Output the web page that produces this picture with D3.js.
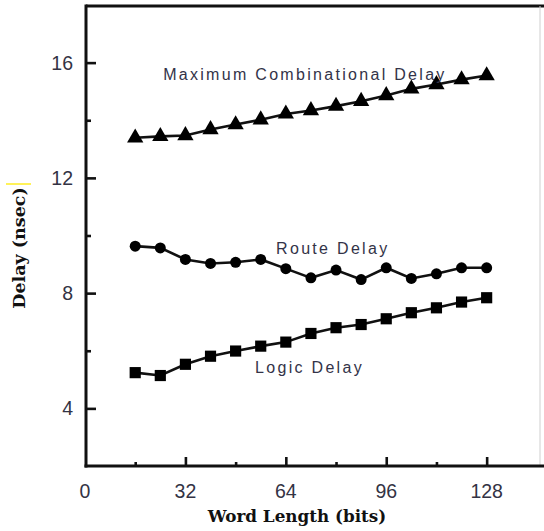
<!DOCTYPE html>
<html>
<head>
<meta charset="utf-8">
<script src="https://cdn.jsdelivr.net/npm/d3@7"></script>
<style>
  html, body { margin: 0; padding: 0; background: #fff; }
  svg { display: block; }
</style>
</head>
<body>
<svg id="chart" width="544" height="531"></svg>
<script>
// ---- data ----
const wordLength = [16, 24, 32, 40, 48, 56, 64, 72, 80, 88, 96, 104, 112, 120, 128];
const maxCombDelay = [13.39, 13.44, 13.47, 13.68, 13.85, 14.02, 14.22, 14.34, 14.49, 14.66, 14.86, 15.09, 15.24, 15.41, 15.55];
const routeDelay   = [9.63, 9.57, 9.17, 9.03, 9.07, 9.17, 8.85, 8.53, 8.80, 8.47, 8.88, 8.51, 8.67, 8.88, 8.88];
const logicDelay   = [5.24, 5.14, 5.53, 5.81, 5.99, 6.16, 6.30, 6.60, 6.80, 6.91, 7.11, 7.32, 7.49, 7.69, 7.84];
const xMajorTicks = [0, 32, 64, 96, 128];
const xMinorTicks = [16, 48, 80, 112];
const yMajorTicks = [4, 8, 12, 16];
const yMinorTicks = [6, 10, 14];
const seriesNames = ["Maximum Combinational Delay", "Route Delay", "Logic Delay"];
// annotation anchors in data units (x, y)
const labelX = [24.9, 60.9, 54.2];
const labelY = [15.4, 9.36, 5.23];
const xTitle = "Word Length (bits)";
const yTitle = "Delay (nsec)";

const svg = d3.select("#chart");
const W = 544, H = 531;
const pLeft = 86, pRight = 540, pTop = 6, pBottom = 466;

const x = d3.scaleLinear().domain([0, 145]).range([85, 540]);
const y = d3.scaleLinear().domain([2, 18]).range([466, 5]);

// frame lines
svg.append("line").attr("x1", pLeft).attr("x2", W).attr("y1", pTop).attr("y2", pTop)
  .attr("stroke", "#111").attr("stroke-width", 2.8);
svg.append("line").attr("x1", pRight).attr("x2", pRight).attr("y1", pTop).attr("y2", pBottom)
  .attr("stroke", "#cfcfcf").attr("stroke-width", 1);

// y axis (ticks pointing inward)
const gy = svg.append("g").attr("transform", `translate(${pLeft},0)`)
  .call(d3.axisRight(y).tickValues(yMajorTicks).tickSize(10).tickFormat(""));
gy.select(".domain").remove();
gy.selectAll(".tick line").attr("stroke", "#111").attr("stroke-width", 2.6);
const gyMinor = svg.append("g").attr("transform", `translate(${pLeft},0)`)
  .call(d3.axisRight(y).tickValues(yMinorTicks).tickSize(5).tickFormat(""));
gyMinor.select(".domain").remove();
gyMinor.selectAll(".tick line").attr("stroke", "#111").attr("stroke-width", 2.6);
svg.append("line").attr("x1", pLeft).attr("x2", pLeft).attr("y1", pTop - 1.4).attr("y2", pBottom + 1.4)
  .attr("stroke", "#111").attr("stroke-width", 3);

// y tick labels
svg.append("g").selectAll("text").data(yMajorTicks).join("text")
  .attr("x", 73).attr("y", d => y(d)).attr("dy", "0.36em")
  .attr("text-anchor", "end")
  .attr("font-family", "Liberation Sans, Arial, sans-serif").attr("font-size", 19.5)
  .attr("fill", "#333344").text(d => d);

// x axis (ticks pointing up)
const gx = svg.append("g").attr("transform", `translate(0,${pBottom})`)
  .call(d3.axisTop(x).tickValues(xMajorTicks.filter(d => d > 0)).tickSize(9).tickFormat(""));
gx.select(".domain").remove();
gx.selectAll(".tick line").attr("stroke", "#111").attr("stroke-width", 2.6);
const gxMinor = svg.append("g").attr("transform", `translate(0,${pBottom})`)
  .call(d3.axisTop(x).tickValues(xMinorTicks).tickSize(4).tickFormat(""));
gxMinor.select(".domain").remove();
gxMinor.selectAll(".tick line").attr("stroke", "#111").attr("stroke-width", 2.6);
svg.append("line").attr("x1", pLeft - 1.5).attr("x2", W).attr("y1", pBottom).attr("y2", pBottom)
  .attr("stroke", "#111").attr("stroke-width", 3);

// x tick labels
svg.append("g").selectAll("text").data(xMajorTicks).join("text")
  .attr("x", d => x(d)).attr("y", 497.5)
  .attr("text-anchor", "middle")
  .attr("font-family", "Liberation Sans, Arial, sans-serif").attr("font-size", 19.5)
  .attr("fill", "#333344").text(d => d);

// axis titles
svg.append("text").attr("x", 297).attr("y", 522).attr("text-anchor", "middle")
  .attr("font-family", "DejaVu Serif, serif").attr("font-weight", "bold").attr("font-size", 16.8)
  .attr("fill", "#111").text(xTitle);
svg.append("text").attr("transform", "translate(25,248) rotate(-90)").attr("text-anchor", "middle")
  .attr("font-family", "DejaVu Serif, serif").attr("font-weight", "bold").attr("font-size", 17.5)
  .attr("fill", "#111").text(yTitle);
svg.append("line").attr("x1", 6).attr("x2", 31).attr("y1", 184).attr("y2", 184)
  .attr("stroke", "#ffee22").attr("stroke-width", 1.5);

// series
const series = [
  { name: seriesNames[0], values: maxCombDelay, symbol: d3.symbolTriangle, size: 115 },
  { name: seriesNames[1], values: routeDelay, symbol: d3.symbolCircle, size: 95 },
  { name: seriesNames[2], values: logicDelay, symbol: d3.symbolSquare, size: 125 }
];
const line = d3.line().x(d => x(d[0])).y(d => y(d[1]));
series.forEach((s, i) => {
  const pts = wordLength.map((w, j) => [w, s.values[j]]);
  svg.append("path").datum(pts).attr("d", line)
    .attr("fill", "none").attr("stroke", "#111").attr("stroke-width", 2.6);
  svg.append("g").selectAll("path").data(pts).join("path")
    .attr("transform", d => `translate(${x(d[0])},${y(d[1])})`)
    .attr("d", d3.symbol().type(s.symbol).size(s.size))
    .attr("fill", "#000");
  svg.append("text").attr("x", x(labelX[i])).attr("y", y(labelY[i]))
    .attr("font-family", "Liberation Sans, Arial, sans-serif").attr("font-size", 16)
    .attr("letter-spacing", 2.3).attr("fill", "#333348").text(s.name);
});
</script>
</body>
</html>
